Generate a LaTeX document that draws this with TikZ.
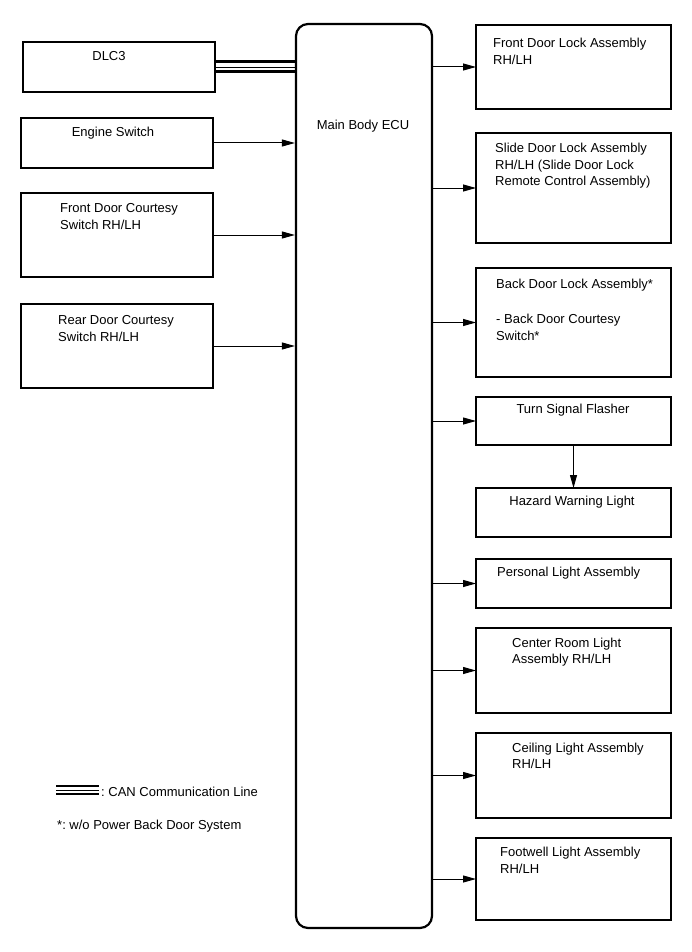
\documentclass[tikz,border=0pt]{standalone}
\usepackage{fontspec}
\setmainfont{Liberation Sans}
\usetikzlibrary{arrows.meta}
\frenchspacing
\tikzset{
  box/.style={draw, line width=2pt, inner sep=0pt, outer sep=0pt},
  lbl/.style={anchor=north west, inner sep=0pt, align=left, font=\fontsize{13pt}{16.5pt}\selectfont},
  clbl/.style={anchor=base, inner sep=0pt, font=\fontsize{13pt}{16.5pt}\selectfont},
  arr/.style={line width=1pt, -{Triangle[length=13pt,width=7pt]}},
  canthick/.style={line width=3pt},
  canthin/.style={line width=0.7pt},
}
\newcommand{\tp}{\rule{0pt}{10pt}}
\begin{document}
\begin{tikzpicture}[x=1pt,y=-1pt]
\useasboundingbox (0,0) rectangle (691,952);
% ECU
\node[draw, line width=2.2pt, rounded corners=12pt, inner sep=0pt, minimum width=136, minimum height=904] (ecu) at (364,476) {};
\node[clbl] (ecut) at (363,130) {Main Body ECU};
% left boxes
\node[box, minimum width=192, minimum height=50] (dlc) at (119,67) {};
\node[clbl] (dlct) at (109,61) {DLC3};
\node[box, minimum width=192, minimum height=50] (es) at (117,143) {};
\node[clbl] (est) at (113,136.5) {Engine Switch};
\node[box, minimum width=192, minimum height=84] (fc) at (117,235) {};
\node[lbl] (fct) at (60,202.5) {\tp Front Door Courtesy\\Switch RH/LH};
\node[box, minimum width=192, minimum height=84] (rc) at (117,346) {};
\node[lbl] (rct) at (58,314.5) {\tp Rear Door Courtesy\\Switch RH/LH};
% right boxes
\node[box, minimum width=195, minimum height=84] (fdl) at (573.5,67) {};
\node[lbl] (fdlt) at (493,37.5) {\tp Front Door Lock Assembly\\RH/LH};
\node[box, minimum width=195, minimum height=110] (sdl) at (573.5,188) {};
\node[lbl] (sdlt) at (495,142.5) {\tp Slide Door Lock Assembly\\RH/LH (Slide Door Lock\\Remote Control Assembly)};
\node[box, minimum width=195, minimum height=109] (bdl) at (573.5,322.5) {};
\node[lbl] (bdlt) at (496,278.5) {\tp Back Door Lock Assembly*\\[2pt] \\- Back Door Courtesy\\Switch*};
\node[box, minimum width=195, minimum height=48] (ts) at (573.5,421) {};
\node[clbl] (tst) at (573,413.5) {Turn Signal Flasher};
\node[box, minimum width=195, minimum height=49] (hz) at (573.5,512.5) {};
\node[clbl] (hzt) at (572,505.5) {Hazard Warning Light};
\node[box, minimum width=195, minimum height=49] (pl) at (573.5,583.5) {};
\node[lbl] (plt) at (497,566.5) {\tp Personal Light Assembly};
\node[box, minimum width=195, minimum height=85] (cr) at (573.5,670.5) {};
\node[lbl] (crt) at (512,637) {\tp Center Room Light\\Assembly RH/LH};
\node[box, minimum width=195, minimum height=85] (cl) at (573.5,775.5) {};
\node[lbl] (clt) at (512,742) {\tp Ceiling Light Assembly\\RH/LH};
\node[box, minimum width=195, minimum height=82] (fw) at (573.5,879) {};
\node[lbl] (fwt) at (500,846.5) {\tp Footwell Light Assembly\\RH/LH};
% CAN line
\draw[canthick] ([yshift=5.5pt]dlc.east) -- ([yshift=5.5pt]dlc.east -| ecu.west);
\draw[canthin] (dlc.east) -- (dlc.east -| ecu.west);
\draw[canthick] ([yshift=-5pt]dlc.east) -- ([yshift=-5pt]dlc.east -| ecu.west);
% inputs
\draw[arr] (es.east) -- (es.east -| ecu.west);
\draw[arr] (fc.east) -- (fc.east -| ecu.west);
\draw[arr] (rc.east) -- (rc.east -| ecu.west);
% outputs
\foreach \n in {fdl,sdl,bdl,ts,pl,cr,cl,fw}{
  \draw[arr] (ecu.east |- \n.west) -- (\n.west);
}
\draw[arr] (ts.south) -- (hz.north);
% legend
\coordinate (lga) at (56,786);
\coordinate (lgb) at (99,786);
\draw[line width=2.4pt] (lga) -- (lgb);
\draw[line width=0.6pt] ([yshift=-4pt]lga) -- ([yshift=-4pt]lgb);
\draw[line width=2.4pt] ([yshift=-8pt]lga) -- ([yshift=-8pt]lgb);
\node[lbl] (lgt) at (101,786) {\tp : CAN Communication Line};
\node[lbl] (lgn) at (57,819) {\tp *: w/o Power Back Door System};
\end{tikzpicture}
\end{document}
